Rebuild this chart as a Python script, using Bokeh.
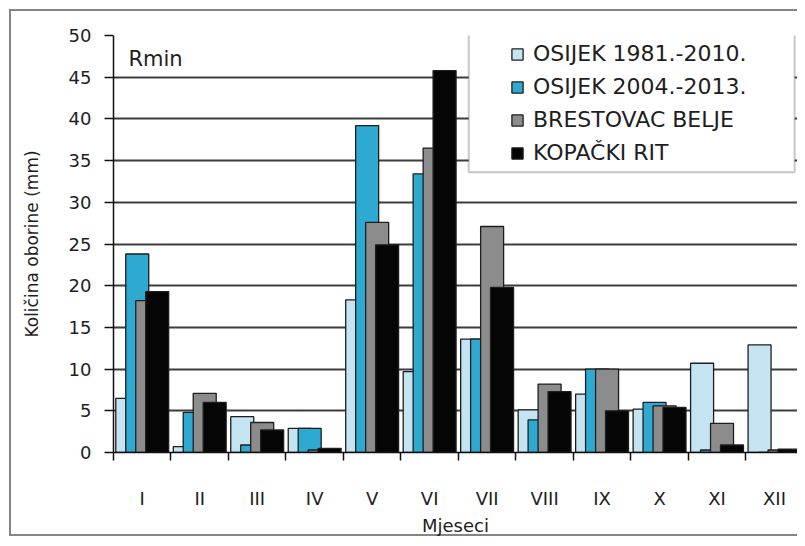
from bokeh.plotting import figure
from bokeh.models import (ColumnDataSource, FixedTicker, Legend, LegendItem,
                          BoxAnnotation, Label, Range1d)
from bokeh.transform import dodge
from bokeh.embed import file_html
from bokeh.resources import INLINE

# ---- data ----
months = ["I", "II", "III", "IV", "V", "VI", "VII", "VIII", "IX", "X", "XI", "XII"]
series_names = ["OSIJEK 1981.-2010.", "OSIJEK 2004.-2013.", "BRESTOVAC BELJE", "KOPAČKI RIT"]
osijek_1981_2010 = [6.5, 0.7, 4.3, 2.9, 18.3, 9.7, 13.6, 5.1, 7.0, 5.2, 10.7, 12.9]
osijek_2004_2013 = [23.8, 4.8, 0.9, 2.9, 39.2, 33.4, 13.6, 3.9, 10.0, 6.0, 0.3, 0.0]
brestovac_belje = [18.2, 7.1, 3.6, 0.3, 27.6, 36.5, 27.1, 8.2, 10.0, 5.6, 3.5, 0.3]
kopacki_rit = [19.3, 6.0, 2.7, 0.5, 24.9, 45.8, 19.8, 7.3, 5.0, 5.4, 0.9, 0.4]
y_ticks = [0, 5, 10, 15, 20, 25, 30, 35, 40, 45, 50]

colors = ["#c4e4f2", "#2eaad2", "#8c8c8c", "#050505"]
FONT = "DejaVu Sans"
TXT = "#1e1e1e"

n = len(months)
centers = [i + 0.5 for i in range(n)]
src = ColumnDataSource(dict(x=centers, month=months, s0=osijek_1981_2010,
                            s1=osijek_2004_2013, s2=brestovac_belje, s3=kopacki_rit))

p = figure(width=797, height=538, output_backend="svg", toolbar_location=None,
           x_range=Range1d(0, 11.9), y_range=Range1d(0, 50),
           min_border_left=113, min_border_right=0, min_border_top=35,
           min_border_bottom=84)
p.outline_line_color = None
p.background_fill_color = "white"
p.border_fill_color = None
# outer chart-area border (left, top, bottom; the right side is cut off in the original)
p.styles = {
    "background": ("linear-gradient(#858585,#858585) 9px 9px / 2px 527px no-repeat, "
                   "linear-gradient(#858585,#858585) 9px 9px / 900px 2px no-repeat, "
                   "linear-gradient(#858585,#858585) 9px 534px / 900px 2px no-repeat, white"),
}

# grid
p.xgrid.visible = False
p.ygrid.ticker = FixedTicker(ticks=y_ticks)
p.ygrid.grid_line_color = "#3c3c3c"
p.ygrid.grid_line_width = 2

# y axis
p.yaxis.ticker = FixedTicker(ticks=y_ticks)
p.yaxis.axis_line_color = "#111111"
p.yaxis.axis_line_width = 1.5
p.yaxis.major_tick_out = 9
p.yaxis.major_tick_in = 0
p.yaxis.major_tick_line_color = "#111111"
p.yaxis.major_tick_line_width = 1.5
p.yaxis.minor_tick_line_color = None
p.yaxis.major_label_text_font = FONT
p.yaxis.major_label_text_font_size = "18px"
p.yaxis.major_label_text_color = TXT
p.yaxis.major_label_standoff = 13
p.yaxis.axis_label = "Količina oborine (mm)"
p.yaxis.axis_label_text_font = FONT
p.yaxis.axis_label_text_font_size = "17px"
p.yaxis.axis_label_text_font_style = "normal"
p.yaxis.axis_label_text_color = TXT
p.yaxis.axis_label_standoff = 24

# x axis: labels at centres, tick marks at category boundaries
p.xaxis.ticker = FixedTicker(ticks=centers, minor_ticks=list(range(n + 1)))
p.xaxis.major_label_overrides = {c: m for c, m in zip(centers, months)}
p.xaxis.axis_line_color = "#111111"
p.xaxis.axis_line_width = 1.5
p.xaxis.major_tick_line_color = None
p.xaxis.minor_tick_line_color = "#111111"
p.xaxis.minor_tick_line_width = 1.5
p.xaxis.minor_tick_out = 8
p.xaxis.minor_tick_in = 0
p.xaxis.major_label_text_font = FONT
p.xaxis.major_label_text_font_size = "18px"
p.xaxis.major_label_text_color = TXT
p.xaxis.major_label_standoff = 27
p.xaxis.axis_label = "Mjeseci"
p.xaxis.axis_label_text_font = FONT
p.xaxis.axis_label_text_font_size = "18px"
p.xaxis.axis_label_text_font_style = "normal"
p.xaxis.axis_label_text_color = TXT
p.xaxis.axis_label_standoff = 3

# bars (overlapping clustered columns)
offsets = [-0.26, -0.087, 0.087, 0.26]
cols = ["s0", "s1", "s2", "s3"]
renderers = []
for col, off, c in zip(cols, offsets, colors):
    r = p.vbar(x=dodge("x", off, range=p.x_range), top=col, width=0.4, source=src,
               fill_color=c, line_color="#1e1e1e", line_width=1.3)
    renderers.append(r)

# legend box
p.add_layout(BoxAnnotation(left=6.18, right=11.85, top=50.3, bottom=33.6,
                           fill_color="white", fill_alpha=1,
                           line_color="#4a4a4a", line_width=2))

legend = Legend(items=[LegendItem(label=nm, renderers=[r]) for nm, r in zip(series_names, renderers)],
                location=(397, 287), orientation="vertical",
                border_line_color=None, background_fill_alpha=0,
                glyph_width=14, glyph_height=14, label_standoff=9,
                label_height=25, spacing=8, padding=7, margin=0,
                label_text_font=FONT, label_text_font_size="22px",
                label_text_color=TXT)
p.add_layout(legend, "center")

p.add_layout(Label(x=0.26, y=47.2, text="Rmin", text_baseline="alphabetic",
                   text_font=FONT, text_font_size="21px", text_color=TXT))

open("out.html", "w").write(file_html(p, INLINE))
